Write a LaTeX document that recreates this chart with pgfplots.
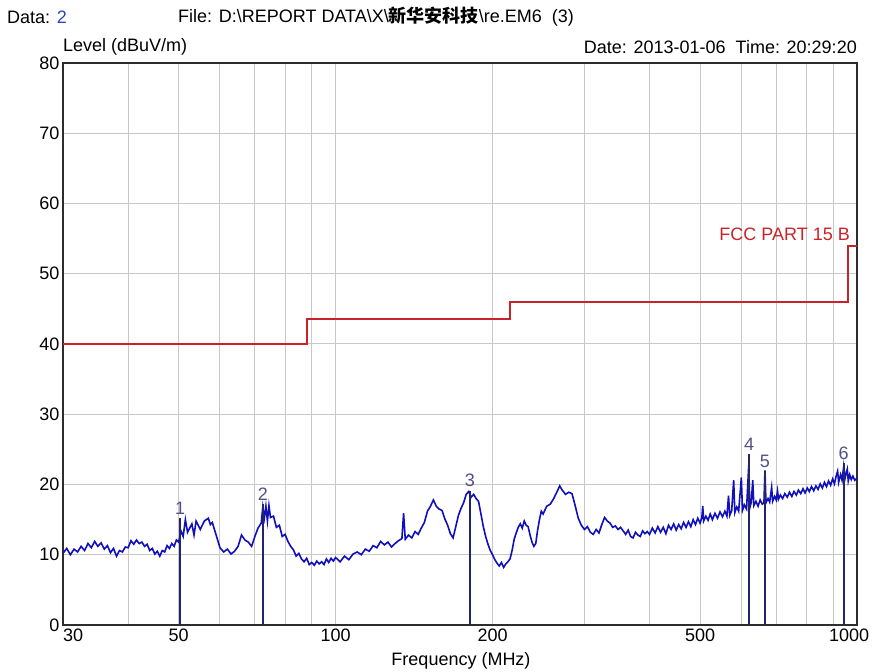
\documentclass[border=0pt]{standalone}
\usepackage{fontspec}
\setmainfont{Liberation Sans}
\newfontfamily\cjk{Noto Sans CJK SC}
\usepackage{pgfplots}
\pgfplotsset{compat=1.18}
\definecolor{trace}{RGB}{15,15,190}
\definecolor{mk}{RGB}{35,35,110}
\definecolor{mklab}{RGB}{80,80,135}
\definecolor{lim}{RGB}{200,35,40}
\definecolor{gridc}{RGB}{200,200,200}
\definecolor{framec}{RGB}{45,45,45}
\definecolor{datab}{RGB}{40,70,180}
\newcommand\fs{\fontsize{18}{21}\selectfont}
\begin{document}
\begin{tikzpicture}
\path[use as bounding box] (-63pt,-46pt) rectangle (811pt,625pt);
\begin{axis}[
  at={(0pt,0pt)}, anchor=south west,
  scale only axis, width=794pt, height=562pt,
  xmode=log, xmin=30, xmax=1000, ymin=0, ymax=80,
  xtick={30,50,100,200,500,1000},
  xticklabels={\makebox[0pt][l]{30},50,100,200,500,\makebox[0pt]{\hspace*{-16pt}1000}},
  minor xtick={40,60,70,80,90,300,400,600,700,800,900},
  ytick={0,10,...,80},
  xmajorgrids, xminorgrids, ymajorgrids,
  major grid style={gridc, line width=1pt},
  minor grid style={gridc, line width=1pt},
  major tick length=0pt, minor tick length=0pt,
  axis line style={framec, line width=2.2pt},
  tick label style={font=\fs},
  /pgf/number format/assume math mode=true,
  clip=false,
]
% limit line
\addplot[lim, line width=2pt] coordinates {(30,40) (88,40) (88,43.5) (216,43.5) (216,46) (960,46) (960,54) (1000,54)};
% trace
\addplot[trace, line width=1.6pt] table {
30.0 10.2
30.5 10.9
31.0 10.0
31.5 10.8
32.0 10.4
32.5 11.2
33.0 10.6
33.5 11.6
34.0 11.0
34.5 11.9
35.0 11.2
35.5 11.7
36.0 10.8
36.5 11.3
37.0 10.3
37.5 10.9
38.0 9.8
38.5 10.6
39.0 10.4
39.5 11.1
40.0 11.0
40.5 12.0
41.0 11.5
41.5 12.1
42.0 11.6
42.5 11.8
43.0 11.2
43.5 11.5
44.0 10.6
44.5 10.9
45.0 10.1
45.5 10.5
46.0 9.8
46.5 10.6
47.0 10.4
47.5 11.3
48.0 10.9
48.5 11.6
49.0 11.2
49.5 12.1
50.0 11.8
50.5 13.4
51.0 12.6
51.5 15.0
52 13.2
53 14.4
53.5 12.8
54 14.8
55 13.6
56 14.8
57 15.2
57.5 14.3
58 14.6
59 12.8
60 11.0
61 10.4
62 10.8
63 10.1
64 10.5
65 11.2
66 12.8
67 12.1
68 11.8
69 11.2
70 12.6
71 13.8
72 14.5
72.5 16.8
73 15.2
73.5 16.9
74 14.8
74.5 17.0
75 15.3
76 15.5
77 13.9
78 14.2
79 12.6
80 12.9
81 11.9
82 11.2
83 10.7
84 9.8
85 10.2
86 9.4
87 9.0
88 9.5
89 8.6
90 8.9
91 8.5
92 9.1
93 8.7
94 9.0
95 8.6
96 9.4
97 8.9
98 9.5
99 9.1
100 9.6
102 9.0
104 9.8
106 9.3
108 10.1
110 10.4
112 10.0
114 10.8
116 10.5
118 11.3
120 11.0
122 11.9
124 11.4
126 11.8
128 11.1
130 11.6
132 12.0
134 12.3
135 15.9
136 12.2
138 12.8
140 12.4
142 13.3
144 12.9
146 13.8
148 14.6
150 16.2
152 16.9
154 17.8
156 16.9
158 16.5
160 16.3
162 15.1
164 14.2
166 13.0
168 12.4
170 14.0
172 15.6
174 16.6
176 17.4
178 18.6
180 19.0
182 18.2
184 18.6
186 18.0
188 17.6
190 15.8
192 14.0
194 12.6
196 11.5
198 10.6
200 10.0
202 9.3
204 8.8
206 8.4
208 8.9
210 8.2
212 8.7
214 9.0
216 9.4
218 10.6
220 12.2
222 13.1
224 13.9
226 14.4
228 13.8
230 14.8
232 14.2
234 14.0
236 12.8
238 11.8
240 11.2
242 11.6
244 13.5
246 15.0
248 16.2
250 15.8
254 16.9
258 17.2
262 18.0
266 19.0
269 19.8
272 19.2
276 18.6
280 18.9
284 18.7
288 17.0
292 15.2
296 14.2
300 13.6
304 14.0
308 13.2
312 12.9
316 13.6
320 13.1
324 14.3
328 15.3
332 14.8
336 14.5
340 13.9
344 14.1
348 13.6
352 13.9
356 13.4
360 12.9
364 13.5
368 12.6
372 12.4
376 13.2
380 12.8
384 12.6
388 13.4
392 13.0
396 13.3
400 12.9
405 13.8
410 13.1
415 14.0
420 13.2
425 13.9
430 13.0
435 14.2
440 13.6
445 14.4
450 13.5
455 14.3
460 13.7
465 14.6
470 13.9
475 14.7
480 14.0
485 15.0
490 14.3
495 15.2
500 14.5
504 15.3
506 16.9
508 14.8
513 15.5
518 14.9
523 15.8
528 15.0
534 15.9
540 15.2
546 16.1
552 15.4
558 16.2
563 15.5
567 18.4
570 15.6
575 16.3
580 20.6
583 16.0
588 16.8
593 16.2
600 21.0
603 16.3
608 17.1
614 16.5
620 22.8
623 16.7
627 17.5
631 20.6
634 17.0
640 17.6
646 16.9
652 17.8
658 17.2
663 17.4
666 22.0
669 17.4
675 18.0
680 17.5
686 19.6
689 17.6
695 18.3
700 17.8
704 19.1
707 17.9
713 18.5
720 18.0
727 18.7
735 18.2
742 18.9
750 18.3
757 19.0
765 18.5
772 19.2
780 18.7
788 19.4
795 18.8
803 19.5
810 19.0
818 19.7
826 19.1
834 19.8
842 19.3
850 20.1
858 19.5
866 20.3
874 19.7
882 20.5
890 19.9
898 20.8
905 20.1
912 21.2
918 21.9
922 20.3
930 21.4
936 20.6
943 22.6
948 20.8
953 21.6
958 22.2
962 20.5
968 21.4
975 20.7
982 21.2
990 20.6
1000 20.9
};
% markers
\addplot[ycomb, mk, line width=1.8pt, no marks,
  nodes near coords, point meta=explicit symbolic,
  every node near coord/.style={mklab, font=\fs, anchor=south, inner sep=3pt}]
  coordinates {(50.3,15.2)[1] (72.5,17.2)[2] (181,19.1)[3] (620.7,24.3)[4] (666,21.9)[5] (943,23.0)[6]};
\end{axis}
\node[anchor=west, inner sep=0pt, font=\fs] at (-56pt,608pt) {Data: \textcolor{datab}{2}};
\node[anchor=west, inner sep=0pt, font=\fs] at (115pt,608pt) {File: D:\textbackslash REPORT DATA\textbackslash X\textbackslash{\cjk\bfseries 新华安科技}\textbackslash re.EM6\ \ (3)};
\node[anchor=west, inner sep=0pt, font=\fs] at (0pt,578pt) {Level (dBuV/m)};
\node[anchor=east, inner sep=0pt, font=\fs] at (794pt,578pt) {Date: 2013-01-06\ \ Time: 20:29:20};
\node[inner sep=0pt, font=\fs] at (398pt,-36pt) {Frequency (MHz)};
\node[anchor=east, inner sep=0pt, font=\fs, text=lim] at (787pt,391pt) {FCC PART 15 B};
\end{tikzpicture}
\end{document}
